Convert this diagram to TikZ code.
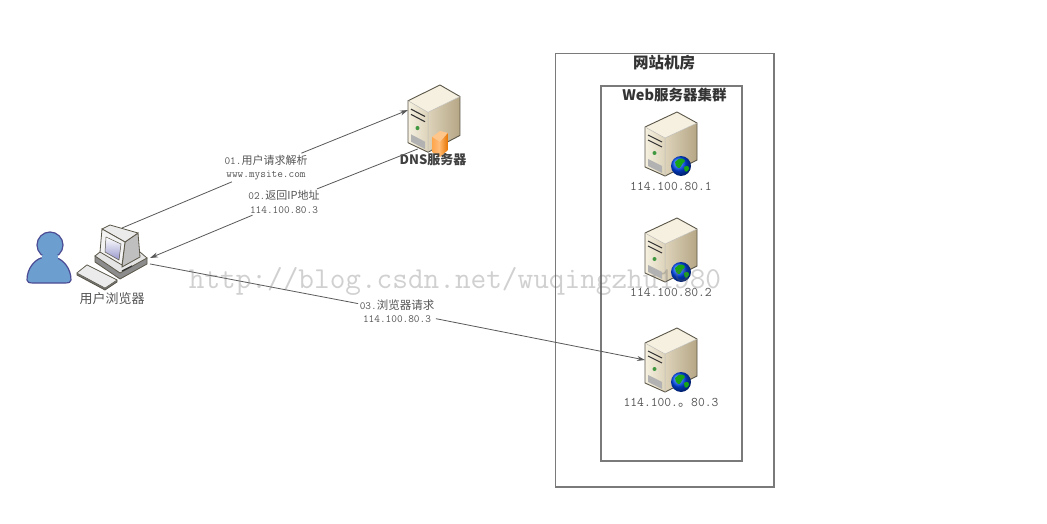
\documentclass[tikz,border=0pt]{standalone}
\usepackage{fontspec}
\newfontfamily\cjk{Noto Sans CJK SC}
\usetikzlibrary{positioning, arrows.meta}
\definecolor{boxline}{HTML}{7A7A7A}
\definecolor{caseline}{HTML}{5A5648}
\definecolor{labelgray}{HTML}{555555}
\definecolor{caselight}{HTML}{F5F0E0}
\definecolor{casemid}{HTML}{DDD3BA}
\definecolor{casedark}{HTML}{B5A685}
\definecolor{userblue}{HTML}{6C9FCF}
\tikzset{
>={Stealth[length=8pt, width=5pt]}, % solid arrow heads
hostbox/.style={minimum width=52pt, minimum height=64pt, inner sep=0pt, outer sep=0pt},
roombox/.style={draw=boxline, line width=1.1pt},
link/.style={draw=black!65, line width=0.8pt},
linklabel/.style={align=center, text=labelgray, inner sep=1.5pt, font=\ttfamily\fontsize{11}{13.5}\selectfont},
iplabel/.style={text=labelgray, inner sep=0pt, font=\ttfamily\fontsize{13.2}{15}\selectfont},
title/.style={inner sep=0pt, text=black!80, font=\cjk\bfseries\fontsize{15.5}{17}\selectfont},
server/.pic={
    \shade[left color=caselight, right color=casemid] (0,15) -- (20,26) -- (20,64) -- (0,55) -- cycle;
    \shade[left color=casemid, right color=casedark] (20,26) -- (52,11) -- (52,48) -- (20,64) -- cycle;
    \fill[caselight] (0,15) -- (32,0) -- (52,11) -- (20,26) -- cycle;
    \draw[caseline, line width=0.9pt, line join=round] (0,15) -- (32,0) -- (52,11) -- (52,48) -- (20,64) -- (0,55) -- cycle;
    \draw[caseline!40, line width=0.5pt] (0,15) -- (20,26) -- (52,11) (20,26) -- (20,64);
    \draw[black!80, line width=1.1pt] (3,23) -- (17,30) (3,28) -- (17,35);
    \fill[black!30!green!50!gray] (9.5,41) circle (2);
    \fill[black!30] (3,47) -- (17,54) -- (17,61) -- (3,54) -- cycle;
},
globe/.pic={
    \shade[ball color=blue!70!cyan] (36,54) circle (10);
    \fill[green!60!black!90] (30,50) .. controls (34,45) and (39,46) .. (40,49) .. controls (36,52) and (36,57) .. (33,56) .. controls (30,55) and (31,53) .. (30,50) -- cycle;
    \fill[green!60!black!90] (39,55) .. controls (42,53) and (44,54) .. (44,57) .. controls (42,61) and (39,61) .. (39,55) -- cycle;
},
shield/.pic={
    \fill[orange!45] (24,52) -- (32,46) -- (40,48) -- (32,57) -- cycle;
    \shade[left color=orange!70, right color=orange!50] (24,52) -- (32,57) -- (32,72) -- (24,67) -- cycle;
    \shade[left color=orange!60, right color=orange!90!black] (32,57) -- (40,48) -- (40,65) -- (32,72) -- cycle;
},
person/.pic={
    \draw[black!60!blue!70, line width=1.2pt, fill=userblue] (-22,22) .. controls (-22,10) and (-14,2) .. (-8,0) -- (8,0) .. controls (14,2) and (22,10) .. (22,22) .. controls (22,24) and (20,25) .. (16,25) -- (-16,25) .. controls (-20,25) and (-22,24) .. (-22,22) -- cycle;
    \draw[black!60!blue!70, line width=1.2pt, fill=userblue] (1,-13) circle (13);
    \fill[userblue] (-7,-3) rectangle (9,3);
},
desktop/.pic={
    % keyboard
    \draw[caseline, line width=0.8pt, fill=black!55] (-45,15) -- (-35,7) -- (-5,22) -- (-5,24) -- (-17,32) -- (-45,17) -- cycle;
    \draw[caseline, line width=0.5pt, fill=black!8] (-45,15) -- (-35,7) -- (-5,22) -- (-17,30) -- cycle;
    % base
    \draw[caseline, line width=0.8pt, fill=black!45] (-27,-2) -- (-27,4) -- (-2,21) -- (25,6) -- (25,0) -- cycle;
    \draw[caseline, line width=0.8pt, fill=black!10] (-27,-2) -- (-22,-6) -- (18,-6) -- (25,0) -- (-2,15) -- cycle;
    \draw[black!80, line width=1.2pt] (0,13) -- (10,8);
    % monitor
    \draw[caseline, line width=0.8pt, fill=black!25] (16,-25) -- (18,-1) -- (0,9) -- (3,-16) -- cycle;
    \draw[caseline, line width=0.8pt, fill=black!8] (-12,-33) -- (16,-25) -- (3,-16) -- (-20,-29) -- cycle;
    \draw[caseline, line width=0.8pt, fill=black!5] (-20,-29) -- (3,-16) -- (0,7) -- (-22,-6) -- cycle;
    \shade[top color=white, bottom color=blue!35!gray!60, draw=caseline, line width=0.5pt] (-16,-21) -- (-1,-14) -- (-3,2) -- (-17,-6) -- cycle;
},
}

\begin{document}
\begin{tikzpicture}[x=1pt, y=-1pt]

            \useasboundingbox[fill=white] (0,0) rectangle (1047,524);

            \draw[roombox] (555.5,53.5) rectangle (774,487);
            \draw[roombox] (601,86) rectangle (742,461);
            \node[title] (room) at (664,63) {\cjk 网站机房};
            \node[title, font=\cjk\bfseries\fontsize{14.5}{16}\selectfont] (cluster) at (674.5,95) {Web\cjk 服务器集群};

            \node[hostbox] (web1) at (671,144) {};
            \node[hostbox] (web2) at (671,250) {};
            \node[hostbox] (web3) at (671,360) {};
            \node[hostbox] (dns) at (434,117) {};
            \node[hostbox, minimum width=56pt, minimum height=60pt] (pc) at (122,258) {};

            \pic at (web1.north west) {server};
            \pic at (web1.north west) {globe};
            \pic at (web2.north west) {server};
            \pic at (web2.north west) {globe};
            \pic at (web3.north west) {server};
            \pic at (web3.north west) {globe};
            \pic[yscale=1.05] at (dns.north west) {server};
            \pic at (dns.north west) {shield};
            \pic at (49,258) {person};
            \pic at (pc) {desktop};

            \node[iplabel, below=6pt of web1] (ip1) {114.100.80.1};
            \node[iplabel, below=6pt of web2] (ip2) {114.100.80.2};
            \node[iplabel, below=6pt of web3] (ip3) {114.100.{\cjk 。}80.3};

            \node[title, font=\cjk\bfseries\fontsize{13}{15}\selectfont, text=black!75] (dnstext) at (433,160) {DNS\cjk 服务器};
            \node[title, font=\cjk\fontsize{13}{15}\selectfont, text=labelgray] (pctext) at (112,299) {用户浏览器};

            \node[linklabel] (ask) at (266,167.5) {01.{\cjk\fontsize{11}{13.5}\selectfont 用户请求解析}\\www.mysite.com};
            \node[linklabel] (answer) at (284,202) {02.{\cjk\fontsize{11}{13.5}\selectfont 返回IP地址}\\114.100.80.3};
            \node[linklabel] (fetch) at (397,311) {03.{\cjk\fontsize{11.5}{13.5}\selectfont 浏览器请求}\\114.100.80.3};

            \draw[link] (pc.north) -- (ask);
            \draw[link, ->] (ask) -- (dns.165);
            \draw[link] (dns.243) -- (answer);
            \draw[link, ->] (answer) -- (pc.east);
            \draw[link] (pc.-12) -- (fetch);
            \draw[link, ->] (fetch) -- (web3.west);

            \node[inner sep=0pt, opacity=0.3, text=black!60, font=\ttfamily\fontsize{30.4}{32}\selectfont] (mark) at (455,281) {http://blog.csdn.net/wuqingzhu1980};
        \end{tikzpicture}
\end{document}
